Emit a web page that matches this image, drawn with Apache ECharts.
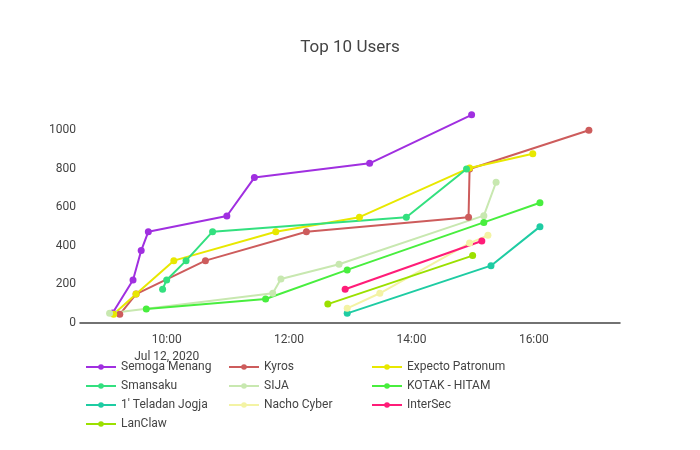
<!DOCTYPE html>
<html><head><meta charset="utf-8">
<script src="https://cdn.jsdelivr.net/npm/echarts@6/dist/echarts.min.js"></script>
<style>html,body{margin:0;padding:0;background:#fff}#c{width:700px;height:450px}</style>
</head><body><div id="c"></div>
<script>
const DAY = '2020-07-12';
const seriesNames = ['Semoga Menang','Kyros','Expecto Patronum','Smansaku','SIJA','KOTAK - HITAM',"1' Teladan Jogja",'Nacho Cyber','InterSec','LanClaw'];
const colors = ['#a02fe0','#cd5c5c','#e8e800','#33e07f','#c8e8b0','#48ee3e','#1ecca3','#f3f3a4','#ff1c78','#9be000'];

const semogaTimes = ['09:07','09:27','09:35','09:42','10:59','11:26','13:19','14:59'];
const semogaValues = [52,223,375,473,554,753,827,1078];
const kyrosTimes = ['09:14','09:30','10:38','12:17','14:56','14:57','16:54'];
const kyrosValues = [45,150,323,473,548,798,998];
const expectoTimes = ['09:08','09:30','10:07','11:47','13:09','14:57','15:59'];
const expectoValues = [45,150,323,473,548,803,877];
const smansakuTimes = ['09:56','10:00','10:19','10:45','13:55','14:54'];
const smansakuValues = [175,223,323,473,548,798];
const sijaTimes = ['09:04','11:44','11:52','12:49','15:11','15:23'];
const sijaValues = [50,154,228,304,556,729];
const kotakTimes = ['09:40','11:37','12:57','15:11','16:06'];
const kotakValues = [72,124,275,521,623];
const teladanTimes = ['12:57','15:18','16:06'];
const teladanValues = [50,297,499];
const nachoTimes = ['12:57','13:29','14:57','15:15'];
const nachoValues = [76,154,414,454];
const intersecTimes = ['12:55','15:09'];
const intersecValues = [175,425];
const lanclawTimes = ['12:38','15:00'];
const lanclawValues = [98,349];

const xTickLabels = ['10:00','12:00','14:00','16:00'];
const yTickValues = [0,200,400,600,800,1000];

const allTimes = [semogaTimes,kyrosTimes,expectoTimes,smansakuTimes,sijaTimes,kotakTimes,teladanTimes,nachoTimes,intersecTimes,lanclawTimes];
const allValues = [semogaValues,kyrosValues,expectoValues,smansakuValues,sijaValues,kotakValues,teladanValues,nachoValues,intersecValues,lanclawValues];

function ts(t){ return new Date(DAY + 'T' + t + ':00').getTime(); }
function pad(n){ return (n<10?'0':'')+n; }

const series = seriesNames.map((name,i)=>({
  name: name,
  type: 'line',
  data: allTimes[i].map((t,j)=>[ts(t), allValues[i][j]]),
  symbol: 'circle',
  symbolSize: 7,
  showSymbol: true,
  lineStyle: {width: 2, color: colors[i]},
  itemStyle: {color: colors[i]},
  emphasis: {disabled: true},
  animation: false
}));

const legendBase = {
  orient: 'vertical', top: 360, itemWidth: 30, itemHeight: 7, itemGap: 5,
  textStyle: {fontFamily: 'Roboto', fontSize: 12, color: '#444', lineHeight: 14},
  padding: 0
};
const cols = [
  [seriesNames[0],seriesNames[3],seriesNames[6],seriesNames[9]],
  [seriesNames[1],seriesNames[4],seriesNames[7]],
  [seriesNames[2],seriesNames[5],seriesNames[8]]
];
const colLeft = [85,228,371];

const chart = echarts.init(document.getElementById('c'), null, {renderer:'canvas'});
chart.setOption({
  animation: false,
  backgroundColor: '#fff',
  title: {text: 'Top 10 Users', left: 'center', top: 34,
    textStyle: {fontFamily: 'Roboto', fontSize: 17, fontWeight: 'normal', color: '#444'}},
  legend: cols.map((c,k)=>Object.assign({}, legendBase, {left: colLeft[k], data: c})),
  grid: {left: 80, right: 80, top: 100, bottom: 127},
  xAxis: {
    type: 'value',
    min: ts('08:35'), max: ts('17:24') + 30000,
    axisLine: {show: true, lineStyle: {color: '#444', width: 1.5}},
    axisTick: {show: false},
    splitLine: {show: false},
    axisLabel: {
      customValues: xTickLabels.map(ts),
      margin: 8,
      fontFamily: 'Roboto', fontSize: 12, color: '#444', lineHeight: 17,
      formatter: function(v){
        const d = new Date(v);
        const s = pad(d.getHours()) + ':' + pad(d.getMinutes());
        return s === xTickLabels[0] ? s + '\nJul 12, 2020' : s;
      }
    }
  },
  yAxis: {
    type: 'value', min: 0, max: 1155,
    axisLine: {show: false}, axisTick: {show: false}, splitLine: {show: false},
    axisLabel: {customValues: yTickValues, margin: 4, fontFamily: 'Roboto', fontSize: 12, color: '#444',
      formatter: function(v){ return String(v); }}
  },
  series: series
});
</script></body></html>
